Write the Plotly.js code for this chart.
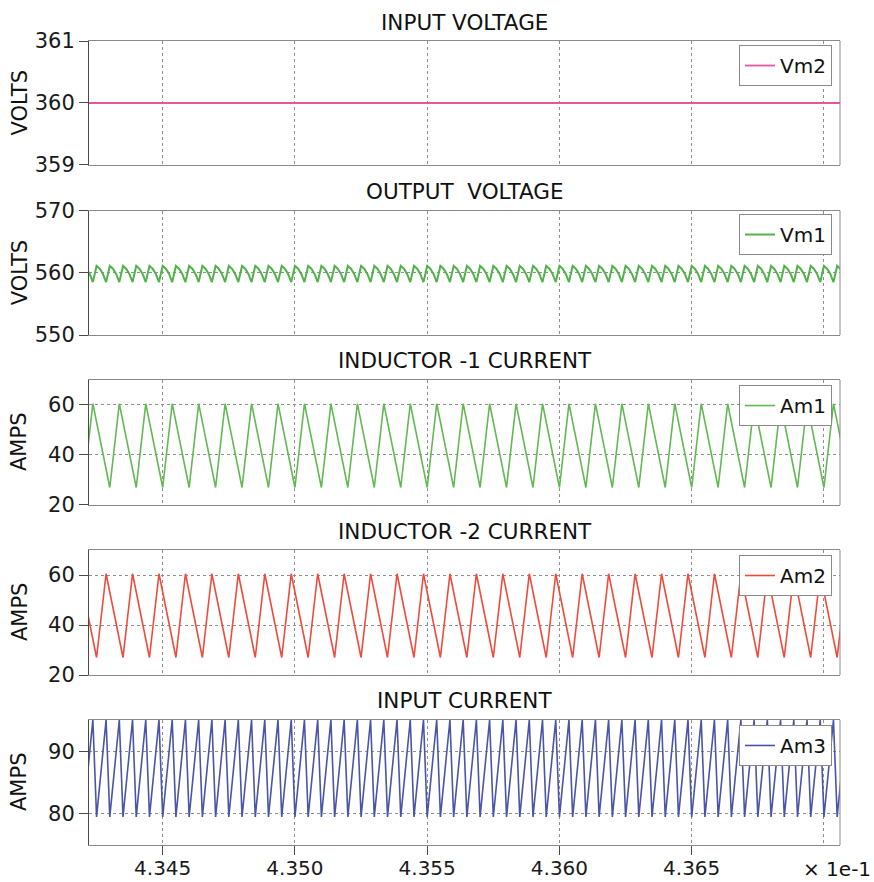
<!DOCTYPE html>
<html>
<head>
<meta charset="utf-8">
<script src="https://cdn.plot.ly/plotly-3.0.1.min.js"></script>
<style>
  html, body { margin: 0; padding: 0; background: #ffffff; }
  #chart { width: 874px; height: 882px; }
</style>
</head>
<body>
<div id="chart"></div>
<script>
// Time axis is shown in units of 1e-1 s.
const xRange = [4.342214, 4.370607];
const xTickVals = [4.345, 4.350, 4.355, 4.360, 4.365];
const xTickText = ['4.345', '4.350', '4.355', '4.360', '4.365'];
const xEndGrid = [4.370];
const xScaleNote = '× 1e-1';

const panelTitles = ['INPUT VOLTAGE', 'OUTPUT  VOLTAGE', 'INDUCTOR -1 CURRENT', 'INDUCTOR -2 CURRENT', 'INPUT CURRENT'];
const panelUnits = ['VOLTS', 'VOLTS', 'AMPS', 'AMPS', 'AMPS'];
const seriesNames = ['Vm2', 'Vm1', 'Am1', 'Am2', 'Am3'];
const yRanges = [[359, 361], [550, 570], [20, 70], [20, 70], [75, 95]];
const yTickVals = [[359, 360, 361], [550, 560, 570], [20, 40, 60], [20, 40, 60], [80, 90]];

// Vm2: input voltage
const vm2Time = [4.342, 4.371];
const vm2Volts = [360, 360];

// Vm1: output voltage ripple (peak, falling samples, trough, every half period)
const vm1Time = [
  4.34200,4.34212,4.34224,4.34236,4.34250,4.34262,4.34274,4.34286,
  4.34300,4.34312,4.34324,4.34336,4.34350,4.34362,4.34374,4.34386,
  4.34400,4.34412,4.34424,4.34436,4.34450,4.34462,4.34474,4.34486,
  4.34500,4.34512,4.34524,4.34536,4.34550,4.34562,4.34574,4.34586,
  4.34600,4.34612,4.34624,4.34636,4.34650,4.34662,4.34674,4.34686,
  4.34700,4.34712,4.34724,4.34736,4.34750,4.34762,4.34774,4.34786,
  4.34800,4.34812,4.34824,4.34836,4.34850,4.34862,4.34874,4.34886,
  4.34900,4.34912,4.34924,4.34936,4.34950,4.34962,4.34974,4.34986,
  4.35000,4.35012,4.35024,4.35036,4.35050,4.35062,4.35074,4.35086,
  4.35100,4.35112,4.35124,4.35136,4.35150,4.35162,4.35174,4.35186,
  4.35200,4.35212,4.35224,4.35236,4.35250,4.35262,4.35274,4.35286,
  4.35300,4.35312,4.35324,4.35336,4.35350,4.35362,4.35374,4.35386,
  4.35400,4.35412,4.35424,4.35436,4.35450,4.35462,4.35474,4.35486,
  4.35500,4.35512,4.35524,4.35536,4.35550,4.35562,4.35574,4.35586,
  4.35600,4.35612,4.35624,4.35636,4.35650,4.35662,4.35674,4.35686,
  4.35700,4.35712,4.35724,4.35736,4.35750,4.35762,4.35774,4.35786,
  4.35800,4.35812,4.35824,4.35836,4.35850,4.35862,4.35874,4.35886,
  4.35900,4.35912,4.35924,4.35936,4.35950,4.35962,4.35974,4.35986,
  4.36000,4.36012,4.36024,4.36036,4.36050,4.36062,4.36074,4.36086,
  4.36100,4.36112,4.36124,4.36136,4.36150,4.36162,4.36174,4.36186,
  4.36200,4.36212,4.36224,4.36236,4.36250,4.36262,4.36274,4.36286,
  4.36300,4.36312,4.36324,4.36336,4.36350,4.36362,4.36374,4.36386,
  4.36400,4.36412,4.36424,4.36436,4.36450,4.36462,4.36474,4.36486,
  4.36500,4.36512,4.36524,4.36536,4.36550,4.36562,4.36574,4.36586,
  4.36600,4.36612,4.36624,4.36636,4.36650,4.36662,4.36674,4.36686,
  4.36700,4.36712,4.36724,4.36736,4.36750,4.36762,4.36774,4.36786,
  4.36800,4.36812,4.36824,4.36836,4.36850,4.36862,4.36874,4.36886,
  4.36900,4.36912,4.36924,4.36936,4.36950,4.36962,4.36974,4.36986,
  4.37000,4.37012,4.37024,4.37036,4.37050,4.37062,4.37074,4.37086
];
const vm1Volts = [
  561.1,560.67,559.81,558.5,561.1,560.67,559.81,558.5,
  561.1,560.67,559.81,558.5,561.1,560.67,559.81,558.5,
  561.1,560.67,559.81,558.5,561.1,560.67,559.81,558.5,
  561.1,560.67,559.81,558.5,561.1,560.67,559.81,558.5,
  561.1,560.67,559.81,558.5,561.1,560.67,559.81,558.5,
  561.1,560.67,559.81,558.5,561.1,560.67,559.81,558.5,
  561.1,560.67,559.81,558.5,561.1,560.67,559.81,558.5,
  561.1,560.67,559.81,558.5,561.1,560.67,559.81,558.5,
  561.1,560.67,559.81,558.5,561.1,560.67,559.81,558.5,
  561.1,560.67,559.81,558.5,561.1,560.67,559.81,558.5,
  561.1,560.67,559.81,558.5,561.1,560.67,559.81,558.5,
  561.1,560.67,559.81,558.5,561.1,560.67,559.81,558.5,
  561.1,560.67,559.81,558.5,561.1,560.67,559.81,558.5,
  561.1,560.67,559.81,558.5,561.1,560.67,559.81,558.5,
  561.1,560.67,559.81,558.5,561.1,560.67,559.81,558.5,
  561.1,560.67,559.81,558.5,561.1,560.67,559.81,558.5,
  561.1,560.67,559.81,558.5,561.1,560.67,559.81,558.5,
  561.1,560.67,559.81,558.5,561.1,560.67,559.81,558.5,
  561.1,560.67,559.81,558.5,561.1,560.67,559.81,558.5,
  561.1,560.67,559.81,558.5,561.1,560.67,559.81,558.5,
  561.1,560.67,559.81,558.5,561.1,560.67,559.81,558.5,
  561.1,560.67,559.81,558.5,561.1,560.67,559.81,558.5,
  561.1,560.67,559.81,558.5,561.1,560.67,559.81,558.5,
  561.1,560.67,559.81,558.5,561.1,560.67,559.81,558.5,
  561.1,560.67,559.81,558.5,561.1,560.67,559.81,558.5,
  561.1,560.67,559.81,558.5,561.1,560.67,559.81,558.5,
  561.1,560.67,559.81,558.5,561.1,560.67,559.81,558.5,
  561.1,560.67,559.81,558.5,561.1,560.67,559.81,558.5,
  561.1,560.67,559.81,558.5,561.1,560.67,559.81,558.5
];

// Am1: inductor 1 current (trough / peak vertices)
const am1Time = [
  4.34200,4.34236, 4.34300,4.34336, 4.34400,4.34436, 4.34500,4.34536, 4.34600,4.34636,
  4.34700,4.34736, 4.34800,4.34836, 4.34900,4.34936, 4.35000,4.35036, 4.35100,4.35136,
  4.35200,4.35236, 4.35300,4.35336, 4.35400,4.35436, 4.35500,4.35536, 4.35600,4.35636,
  4.35700,4.35736, 4.35800,4.35836, 4.35900,4.35936, 4.36000,4.36036, 4.36100,4.36136,
  4.36200,4.36236, 4.36300,4.36336, 4.36400,4.36436, 4.36500,4.36536, 4.36600,4.36636,
  4.36700,4.36736, 4.36800,4.36836, 4.36900,4.36936, 4.37000,4.37036, 4.37100
];
const am1Amps = [
  27,60.5, 27,60.5, 27,60.5, 27,60.5, 27,60.5,
  27,60.5, 27,60.5, 27,60.5, 27,60.5, 27,60.5,
  27,60.5, 27,60.5, 27,60.5, 27,60.5, 27,60.5,
  27,60.5, 27,60.5, 27,60.5, 27,60.5, 27,60.5,
  27,60.5, 27,60.5, 27,60.5, 27,60.5, 27,60.5,
  27,60.5, 27,60.5, 27,60.5, 27,60.5, 27
];

// Am2: inductor 2 current, interleaved by half a period
const am2Time = [
  4.34186,
  4.34250,4.34286, 4.34350,4.34386, 4.34450,4.34486, 4.34550,4.34586, 4.34650,4.34686,
  4.34750,4.34786, 4.34850,4.34886, 4.34950,4.34986, 4.35050,4.35086, 4.35150,4.35186,
  4.35250,4.35286, 4.35350,4.35386, 4.35450,4.35486, 4.35550,4.35586, 4.35650,4.35686,
  4.35750,4.35786, 4.35850,4.35886, 4.35950,4.35986, 4.36050,4.36086, 4.36150,4.36186,
  4.36250,4.36286, 4.36350,4.36386, 4.36450,4.36486, 4.36550,4.36586, 4.36650,4.36686,
  4.36750,4.36786, 4.36850,4.36886, 4.36950,4.36986, 4.37050,4.37086
];
const am2Amps = [
  60.5,
  27,60.5, 27,60.5, 27,60.5, 27,60.5, 27,60.5,
  27,60.5, 27,60.5, 27,60.5, 27,60.5, 27,60.5,
  27,60.5, 27,60.5, 27,60.5, 27,60.5, 27,60.5,
  27,60.5, 27,60.5, 27,60.5, 27,60.5, 27,60.5,
  27,60.5, 27,60.5, 27,60.5, 27,60.5, 27,60.5,
  27,60.5, 27,60.5, 27,60.5, 27,60.5
];

// Am3: input current (sum of both phases, twice the switching frequency)
const am3Time = [
  4.34200,4.34236,4.34250,4.34286, 4.34300,4.34336,4.34350,4.34386,
  4.34400,4.34436,4.34450,4.34486, 4.34500,4.34536,4.34550,4.34586,
  4.34600,4.34636,4.34650,4.34686, 4.34700,4.34736,4.34750,4.34786,
  4.34800,4.34836,4.34850,4.34886, 4.34900,4.34936,4.34950,4.34986,
  4.35000,4.35036,4.35050,4.35086, 4.35100,4.35136,4.35150,4.35186,
  4.35200,4.35236,4.35250,4.35286, 4.35300,4.35336,4.35350,4.35386,
  4.35400,4.35436,4.35450,4.35486, 4.35500,4.35536,4.35550,4.35586,
  4.35600,4.35636,4.35650,4.35686, 4.35700,4.35736,4.35750,4.35786,
  4.35800,4.35836,4.35850,4.35886, 4.35900,4.35936,4.35950,4.35986,
  4.36000,4.36036,4.36050,4.36086, 4.36100,4.36136,4.36150,4.36186,
  4.36200,4.36236,4.36250,4.36286, 4.36300,4.36336,4.36350,4.36386,
  4.36400,4.36436,4.36450,4.36486, 4.36500,4.36536,4.36550,4.36586,
  4.36600,4.36636,4.36650,4.36686, 4.36700,4.36736,4.36750,4.36786,
  4.36800,4.36836,4.36850,4.36886, 4.36900,4.36936,4.36950,4.36986,
  4.37000,4.37036,4.37050,4.37086
];
const am3Amps = [
  79.5,95,79.5,95, 79.5,95,79.5,95,
  79.5,95,79.5,95, 79.5,95,79.5,95,
  79.5,95,79.5,95, 79.5,95,79.5,95,
  79.5,95,79.5,95, 79.5,95,79.5,95,
  79.5,95,79.5,95, 79.5,95,79.5,95,
  79.5,95,79.5,95, 79.5,95,79.5,95,
  79.5,95,79.5,95, 79.5,95,79.5,95,
  79.5,95,79.5,95, 79.5,95,79.5,95,
  79.5,95,79.5,95, 79.5,95,79.5,95,
  79.5,95,79.5,95, 79.5,95,79.5,95,
  79.5,95,79.5,95, 79.5,95,79.5,95,
  79.5,95,79.5,95, 79.5,95,79.5,95,
  79.5,95,79.5,95, 79.5,95,79.5,95,
  79.5,95,79.5,95, 79.5,95,79.5,95,
  79.5,95,79.5,95
];

const seriesX = [vm2Time, vm1Time, am1Time, am2Time, am3Time];
const seriesY = [vm2Volts, vm1Volts, am1Amps, am2Amps, am3Amps];

// ---- styling ----
const FONT = 'DejaVu Sans, Verdana, sans-serif';
const lineColors = ['#e4579c', '#52b24a', '#62b852', '#ef4b3c', '#4b55a8'];
const lineWidths = [1.8, 2, 1.6, 1.6, 1.6];
const domains = [[0.8458, 1], [0.6343, 0.7891], [0.4229, 0.5784], [0.2114, 0.3669], [0, 0.1555]];
const legendTops = [0.995, 0.7848, 0.5721, 0.3607, 0.1493];
const gridColor = '#8f8f8f';
const frameColor = '#8a8a8a';
const axisColor = '#4a4a4a';

const traces = [];
const layout = {
  width: 874,
  height: 882,
  margin: { l: 89, r: 34, t: 41, b: 37 },
  paper_bgcolor: '#ffffff',
  plot_bgcolor: '#ffffff',
  font: { family: FONT, color: '#1a1a1a' },
  annotations: [],
  shapes: []
};

const n = panelTitles.length;
for (let i = 0; i < n; i++) {
  const sfx = i === 0 ? '' : String(i + 1);
  const xr = 'x' + sfx, yr = 'y' + sfx;
  const isLast = i === n - 1;

  layout['xaxis' + sfx] = {
    domain: [0, 1],
    anchor: yr,
    range: xRange,
    tickmode: 'array',
    tickvals: xTickVals,
    ticktext: xTickText,
    showticklabels: isLast,
    ticks: isLast ? 'outside' : '',
    ticklen: 9,
    tickcolor: axisColor,
    ticklabelstandoff: -4,
    tickfont: { size: 20, color: '#1a1a1a', family: FONT },
    showgrid: true,
    gridcolor: gridColor,
    griddash: 'dot',
    gridwidth: 1,
    minor: { tickmode: 'array', tickvals: xEndGrid, showgrid: true, gridcolor: gridColor, griddash: 'dot', gridwidth: 1, ticks: '' },
    showline: true,
    mirror: true,
    linecolor: frameColor,
    linewidth: 1,
    zeroline: false,
    fixedrange: true
  };

  layout['yaxis' + sfx] = {
    domain: domains[i],
    anchor: xr,
    range: yRanges[i],
    tickmode: 'array',
    tickvals: yTickVals[i],
    ticks: 'outside',
    ticklen: 9,
    tickcolor: axisColor,
    tickfont: { size: 21, color: '#1a1a1a', family: FONT },
    showgrid: true,
    gridcolor: gridColor,
    griddash: 'dot',
    gridwidth: 1,
    showline: true,
    linecolor: axisColor,
    linewidth: 1,
    mirror: false,
    zeroline: false,
    fixedrange: true
  };

  // right edge of the frame
  layout.shapes.push({
    type: 'line', xref: xr + ' domain', yref: yr + ' domain',
    x0: 1, x1: 1, y0: 0, y1: 1,
    line: { color: frameColor, width: 1 }
  });

  // panel title
  layout.annotations.push({
    text: panelTitles[i],
    xref: xr + ' domain', yref: yr + ' domain',
    x: 0.5, y: 1, xanchor: 'center', yanchor: 'middle', yshift: 19,
    showarrow: false,
    font: { size: 21.5, color: '#111', family: FONT }
  });

  // unit label on the left
  layout.annotations.push({
    text: panelUnits[i],
    xref: 'paper', yref: yr + ' domain',
    x: -0.0925, y: 0.5, xanchor: 'center', yanchor: 'middle',
    textangle: -90,
    showarrow: false,
    font: { size: 21, color: '#111', family: FONT }
  });

  const legKey = 'legend' + sfx;
  layout[legKey] = {
    x: 0.9893, xanchor: 'right',
    y: legendTops[i], yanchor: 'top',
    bgcolor: '#ffffff',
    bordercolor: frameColor,
    borderwidth: 1,
    font: { size: 20, color: '#111', family: FONT }
  };

  traces.push({
    type: 'scatter',
    mode: 'lines',
    name: seriesNames[i],
    x: seriesX[i],
    y: seriesY[i],
    xaxis: xr,
    yaxis: yr,
    legend: legKey,
    showlegend: true,
    line: { color: lineColors[i], width: lineWidths[i] },
    hoverinfo: 'skip'
  });
}

// axis multiplier note at the lower right
layout.annotations.push({
  text: xScaleNote,
  xref: 'paper', yref: 'paper',
  x: 0.996, y: -0.0299, xanchor: 'center', yanchor: 'middle',
  showarrow: false,
  font: { size: 20, color: '#111', family: FONT }
});

Plotly.newPlot('chart', traces, layout, { displayModeBar: false, staticPlot: true });
</script>
</body>
</html>
